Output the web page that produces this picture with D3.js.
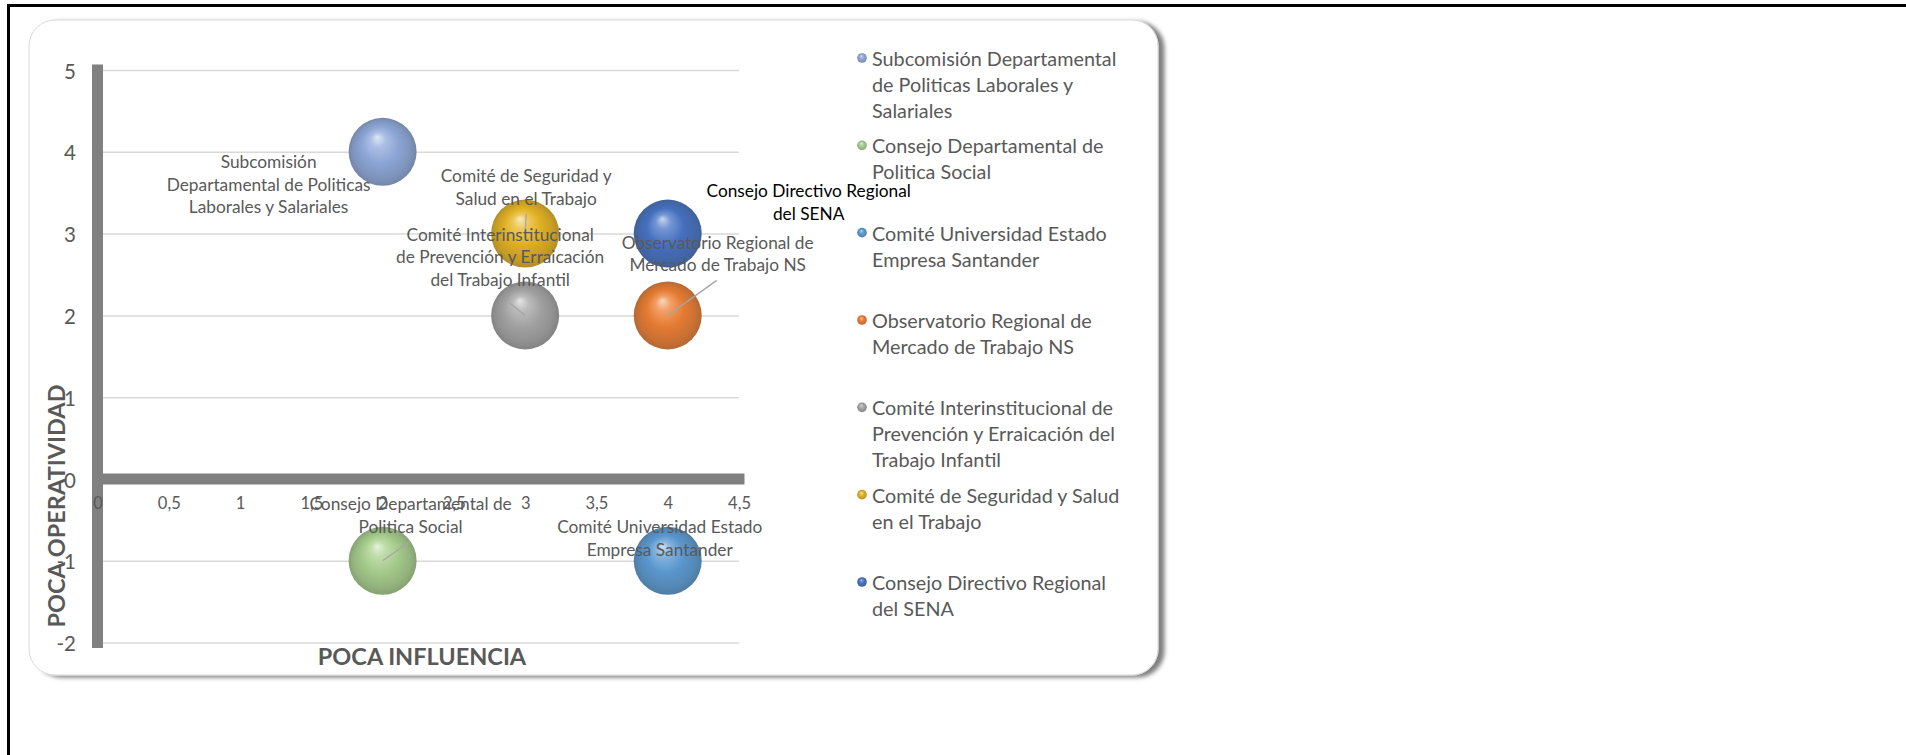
<!DOCTYPE html>
<meta charset="utf-8">
<title>Poca influencia - poca operatividad</title>
<script src="https://d3js.org/d3.v7.min.js"></script>
<style>
  body { margin: 0; background: #fff; }
  text { font-family: Lato, "Noto Sans", sans-serif; }
</style>
<div id="chart"></div>
<script>

// one bubble per instance
var nombres = [
  "Subcomisión Departamental de Politicas Laborales y Salariales",
  "Consejo Departamental de Politica Social",
  "Comité Universidad Estado Empresa Santander",
  "Observatorio Regional de Mercado de Trabajo NS",
  "Comité Interinstitucional de Prevención y Erraicación del Trabajo Infantil",
  "Comité de Seguridad y Salud en el Trabajo",
  "Consejo Directivo Regional del SENA"
];
var influencia   = [2, 2, 4, 4, 3, 3, 4];
var operatividad = [4, -1, -1, 2, 2, 3, 3];
var tamano       = [1, 1, 1, 1, 1, 1, 1];
var colores = ["#8FAADC", "#A9D18E", "#5B9BD5", "#ED7D31", "#A5A5A5", "#E8B520", "#4472C4"];

var xTicks = [0, 0.5, 1, 1.5, 2, 2.5, 3, 3.5, 4, 4.5];
var yTicks = [-2, -1, 0, 1, 2, 3, 4, 5];

// text as it wraps in the original
var etiquetas = [
  ["Subcomisión", "Departamental de Politicas", "Laborales y Salariales"],
  ["Consejo Departamental de", "Politica Social"],
  ["Comité Universidad Estado", "Empresa Santander"],
  ["Observatorio Regional de", "Mercado de Trabajo NS"],
  ["Comité Interinstitucional", "de Prevención y Erraicación", "del Trabajo Infantil"],
  ["Comité de Seguridad y", "Salud en el Trabajo"],
  ["Consejo Directivo Regional", "del SENA"]
];
var leyenda = [
  ["Subcomisión Departamental", "de Politicas Laborales y", "Salariales"],
  ["Consejo Departamental de", "Politica Social"],
  ["Comité Universidad Estado", "Empresa Santander"],
  ["Observatorio Regional de", "Mercado de Trabajo NS"],
  ["Comité Interinstitucional de", "Prevención y Erraicación del", "Trabajo Infantil"],
  ["Comité de Seguridad y Salud", "en el Trabajo"],
  ["Consejo Directivo Regional", "del SENA"]
];

// where the data labels sit, pixel offsets from bubble centre (layout only)
var posEtiqueta = [
  {dx: -114, dy: 10},
  {dx: 28, dy: -57, lx: 27, ly: -19},
  {dx: -8, dy: -34},
  {dx: 50, dy: -73, lx: 49, ly: -35},
  {dx: -25, dy: -81, lx: -16, ly: -13},
  {dx: 1, dy: -58, lx: 1, ly: -20},
  {dx: 141, dy: -43}
];

var W = 1906, H = 755;
var gris = "#595959";

var svg = d3.select("#chart").append("svg")
    .attr("width", W)
    .attr("height", H);

var defs = svg.append("defs");

// page frame (top + left rule)
svg.append("line").attr("x1", 7).attr("x2", W).attr("y1", 5.5).attr("y2", 5.5)
    .attr("stroke", "#000").attr("stroke-width", 3);
svg.append("line").attr("x1", 8.5).attr("x2", 8.5).attr("y1", 4).attr("y2", H)
    .attr("stroke", "#000").attr("stroke-width", 3);

// card with shadow
var sombra = defs.append("filter").attr("id", "sombra")
    .attr("x", "-5%").attr("y", "-5%").attr("width", "110%").attr("height", "110%");
sombra.append("feDropShadow").attr("dx", 6).attr("dy", 2).attr("stdDeviation", 2.2)
    .attr("flood-color", "#000").attr("flood-opacity", 0.5);

svg.append("rect")
    .attr("x", 29).attr("y", 20).attr("width", 1129).attr("height", 655)
    .attr("rx", 26)
    .attr("fill", "#fff")
    .attr("stroke", "#d9d9d9")
    .attr("filter", "url(#sombra)");

// scales
var x = d3.scaleLinear().domain([0, 4.5]).range([97.5, 739]);
var y = d3.scaleLinear().domain([-2, 5]).range([642.6, 70]);
var r = d3.scaleSqrt().domain([0, 1]).range([0, 34]);

var loc = d3.formatLocale({decimal: ",", thousands: ".", grouping: [3], currency: ["$", ""], minus: "-"});
var fmt = loc.format("~g");

// horizontal gridlines
svg.append("g")
    .attr("transform", "translate(" + x(0) + ",0)")
    .call(d3.axisLeft(y).tickValues(yTicks).tickSize(-(x(4.5) - x(0))).tickFormat(""))
    .call(function(g) {
      g.select(".domain").remove();
      g.selectAll("line").attr("stroke", "#d9d9d9").attr("stroke-width", 1.5);
    });

// y tick labels
svg.append("g")
    .attr("transform", "translate(76,0)")
    .call(d3.axisLeft(y).tickValues(yTicks).tickSize(0).tickPadding(0).tickFormat(fmt))
    .call(function(g) {
      g.select(".domain").remove();
      g.selectAll("text")
        .attr("fill", gris)
        .attr("font-size", 20.5)
        .attr("font-family", "Lato, sans-serif")
        .attr("dy", null)
        .attr("dominant-baseline", "central");
    });

// thick axis bars
svg.append("line")
    .attr("x1", x(0)).attr("x2", x(0)).attr("y1", y(5)).attr("y2", y(-2))
    .attr("stroke", "#808080").attr("stroke-width", 11).attr("stroke-linecap", "square");
svg.append("line")
    .attr("x1", x(0)).attr("x2", x(4.5)).attr("y1", y(0)).attr("y2", y(0))
    .attr("stroke", "#808080").attr("stroke-width", 11).attr("stroke-linecap", "square");

// x tick labels
svg.append("g")
    .attr("transform", "translate(0," + (y(0) + 24) + ")")
    .call(d3.axisBottom(x).tickValues(xTicks).tickSize(0).tickPadding(0).tickFormat(fmt))
    .call(function(g) {
      g.select(".domain").remove();
      g.selectAll("text")
        .attr("fill", gris)
        .attr("font-size", 16.5)
        .attr("font-family", "Lato, sans-serif")
        .attr("y", 0)
        .attr("dy", null)
        .attr("dominant-baseline", "central");
    });

// axis titles
svg.append("text")
    .attr("x", 422).attr("y", 656)
    .attr("text-anchor", "middle").attr("dominant-baseline", "central")
    .attr("font-weight", "bold").attr("font-size", 23.5).attr("fill", gris)
    .text("POCA INFLUENCIA");
svg.append("text")
    .attr("transform", "translate(56,506) rotate(-90)")
    .attr("text-anchor", "middle").attr("dominant-baseline", "central")
    .attr("font-weight", "bold").attr("font-size", 23.5).attr("fill", gris)
    .text("POCA OPERATIVIDAD");

// 3-D look for the bubbles
colores.forEach(function(c, i) {
  var gr = defs.append("radialGradient").attr("id", "esfera" + i)
      .attr("cx", "50%").attr("cy", "50%").attr("r", "50%")
      .attr("fx", "42%").attr("fy", "28%");
  var claro = d3.interpolateRgb(c, "#fff"), oscuro = d3.interpolateRgb(c, "#3a3a3a");
  gr.append("stop").attr("offset", "0%").attr("stop-color", claro(0.7));
  gr.append("stop").attr("offset", "22%").attr("stop-color", claro(0.25));
  gr.append("stop").attr("offset", "55%").attr("stop-color", oscuro(0.05));
  gr.append("stop").attr("offset", "85%").attr("stop-color", oscuro(0.2));
  gr.append("stop").attr("offset", "100%").attr("stop-color", oscuro(0.32));
});

var datos = nombres.map(function(n, i) {
  return {nombre: n, x: influencia[i], y: operatividad[i], s: tamano[i], i: i};
});

svg.append("g").selectAll("circle")
  .data(datos)
  .enter()
  .append("circle")
    .attr("cx", function(d) { return x(d.x); })
    .attr("cy", function(d) { return y(d.y); })
    .attr("r", function(d) { return r(d.s); })
    .attr("fill", function(d) { return "url(#esfera" + d.i + ")"; });

// leader lines
svg.append("g").selectAll("line")
  .data(datos.filter(function(d) { return posEtiqueta[d.i].lx !== undefined; }))
  .enter()
  .append("line")
    .attr("x1", function(d) { return x(d.x) + posEtiqueta[d.i].lx; })
    .attr("y1", function(d) { return y(d.y) + posEtiqueta[d.i].ly; })
    .attr("x2", function(d) { return x(d.x); })
    .attr("y2", function(d) { return y(d.y); })
    .attr("stroke", "#a6a6a6").attr("stroke-width", 1.3);

// data labels
var et = svg.append("g").selectAll("text")
  .data(datos)
  .enter()
  .append("text")
    .attr("text-anchor", "middle")
    .attr("font-size", 17.3)
    .attr("fill", function(d) { return d.i === 6 ? "#000" : gris; });
et.selectAll("tspan")
  .data(function(d) {
    return etiquetas[d.i].map(function(t, k) { return {t: t, k: k, d: d}; });
  })
  .enter()
  .append("tspan")
    .attr("x", function(e) { return x(e.d.x) + posEtiqueta[e.d.i].dx; })
    .attr("y", function(e) { return y(e.d.y) + posEtiqueta[e.d.i].dy + e.k * 22.5; })
    .attr("dominant-baseline", "central")
    .text(function(e) { return e.t; });

// legend
var ly = d3.scalePoint().domain(nombres).range([58, 582]);
var leg = svg.append("g").selectAll("g")
  .data(datos)
  .enter()
  .append("g")
    .attr("transform", function(d) { return "translate(862," + ly(d.nombre) + ")"; });
leg.append("circle")
    .attr("r", 4.8)
    .attr("fill", function(d) { return "url(#esfera" + d.i + ")"; });
leg.append("text")
    .attr("font-size", 19.8)
    .attr("fill", gris)
  .selectAll("tspan")
  .data(function(d) { return leyenda[d.i]; })
  .enter()
  .append("tspan")
    .attr("x", 10)
    .attr("y", function(t, k) { return k * 26; })
    .attr("dominant-baseline", "central")
    .text(function(t) { return t; });

</script>
